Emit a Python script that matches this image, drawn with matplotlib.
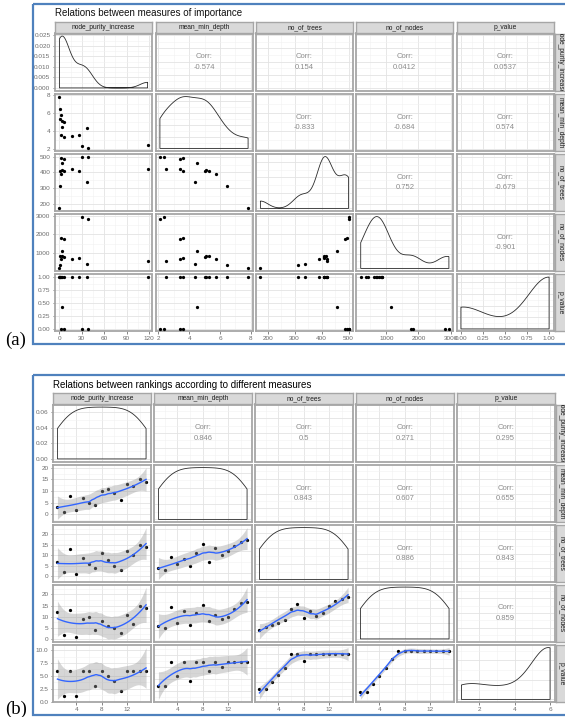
import numpy as np
import matplotlib
matplotlib.use("Agg")
import matplotlib.pyplot as plt
from matplotlib.patches import Rectangle
from matplotlib.ticker import FixedLocator, MaxNLocator, AutoMinorLocator

plt.rcParams['font.family'] = ['Liberation Sans', 'DejaVu Sans']

W, H = 565, 717

var_names = ["node_purity_increase", "mean_min_depth", "no_of_trees", "no_of_nodes", "p_value"]

# (a) importance measures (one value per explanatory variable)
npi_a   = [38.0, 30.0, 118.0, 6.2, 2.7, 17.4, 25.9, 3.0, 5.8, 4.0, 1.3, 1.8, 37.5, 0.4, 0.0]
mmd_a   = [2.10, 2.36, 2.49, 3.40, 3.60, 3.42, 3.60, 4.50, 5.02, 5.12, 5.31, 5.75, 4.38, 6.46, 7.82]
trees_a = [500, 500, 419, 485, 494, 419, 410, 458, 410, 415, 408, 391, 340, 314, 173]
nodes_a = [2840, 2947, 600, 1761, 1830, 697, 766, 1138, 820, 872, 860, 680, 430, 378, 200]
pval_a  = [0.0, 0.0, 1.0, 0.0, 0.0, 1.0, 1.0, 0.42, 1.0, 1.0, 1.0, 1.0, 1.0, 1.0, 1.0]
corr_a = [["-0.574", "0.154", "0.0412", "0.0537"],
          ["-0.833", "-0.684", "0.574"],
          ["0.752", "-0.679"],
          ["-0.901"]]

# (b) rankings according to the measures
npi_b   = [1, 2, 3, 4, 5, 6, 7, 8, 9, 10, 11, 12, 13, 14, 15]
mmd_b   = [3, 1, 8, 2, 7, 5, 4, 10, 11, 9, 6, 13, 12, 15, 14]
trees_b = [7, 2, 13, 1, 9, 6, 4, 11, 8, 5, 3, 12, 10, 15, 14]
nodes_b = [12, 2, 13, 1, 9, 10, 4, 8, 6, 5, 3, 11, 7, 15, 14]
pval_b  = [6, 1, 6, 1, 6, 6, 3, 6, 5, 4, 2, 6, 6, 6, 6]
corr_b = [["0.846", "0.5", "0.271", "0.295"],
          ["0.843", "0.607", "0.655"],
          ["0.886", "0.843"],
          ["0.859"]]

# tick marks
ticks_a = [[0, 30, 60, 90, 120], [2, 4, 6, 8], [200, 300, 400, 500], [1000, 2000, 3000],
           [0, 0.25, 0.5, 0.75, 1.0]]
labels_a = [["0", "30", "60", "90", "120"], ["2", "4", "6", "8"], ["200", "300", "400", "500"],
            ["1000", "2000", "3000"], ["0.00", "0.25", "0.50", "0.75", "1.00"]]
dens_ticks_a = [0, 0.005, 0.010, 0.015, 0.020, 0.025]
dens_labels_a = ["0.000", "0.005", "0.010", "0.015", "0.020", "0.025"]

ticks_b = [[4, 8, 12], [4, 8, 12], [4, 8, 12], [4, 8, 12], [2, 4, 6]]
labels_b = [["4", "8", "12"]] * 4 + [["2", "4", "6"]]
left_ticks_b = [[0, 0.02, 0.04, 0.06], [0, 5, 10, 15, 20], [0, 5, 10, 15, 20], [0, 5, 10, 15, 20],
                [0, 2.5, 5, 7.5, 10]]
left_labels_b = [["0.00", "0.02", "0.04", "0.06"], ["0", "5", "10", "15", "20"],
                 ["0", "5", "10", "15", "20"], ["0", "5", "10", "15", "20"],
                 ["0.0", "2.5", "5.0", "7.5", "10.0"]]

STEPS = [1, 2, 2.5, 3, 4, 5, 10]


def kde(v, n=512):
    # gaussian kernel, bw.nrd0 like R
    v = np.asarray(v, float)
    sd = v.std(ddof=1)
    q75, q25 = np.percentile(v, [75, 25])
    lo = min(sd, (q75 - q25) / 1.34)
    if lo <= 0:
        lo = sd
    bw = 0.9 * lo * len(v) ** -0.2
    xs = np.linspace(v.min(), v.max(), n)
    d = np.exp(-0.5 * ((xs[:, None] - v[None, :]) / bw) ** 2).sum(1)
    d = d / (len(v) * bw * np.sqrt(2 * np.pi))
    return xs, d


def t975(df):
    z = 1.959964
    return (z + (z ** 3 + z) / (4 * df) + (5 * z ** 5 + 16 * z ** 3 + 3 * z) / (96 * df ** 2)
            + (3 * z ** 7 + 19 * z ** 5 + 17 * z ** 3 - 15 * z) / (384 * df ** 3))


def loess(x, y, xg, span=0.75):
    # local quadratic fit with tricube weights + standard error band
    x = np.asarray(x, float)
    y = np.asarray(y, float)
    n = len(x)
    q = int(np.floor(n * span))

    def row(x0):
        d = np.abs(x - x0)
        h = np.sort(d)[q - 1] * 1.0001
        u = np.clip(d / h, 0, 1)
        w = (1 - u ** 3) ** 3
        X = np.column_stack([np.ones(n), x - x0, (x - x0) ** 2])
        XtW = X.T * w
        return np.linalg.solve(XtW @ X, XtW)[0]

    L = np.array([row(v) for v in x])
    Lg = np.array([row(v) for v in xg])
    R = np.eye(n) - L
    M = R.T @ R
    d1 = np.trace(M)
    d2 = np.trace(M @ M)
    s = np.sqrt(np.sum((R @ y) ** 2) / d1)
    fit = Lg @ y
    se = s * np.sqrt((Lg ** 2).sum(1))
    t = t975(d1 ** 2 / d2)
    return fit, fit - t * se, fit + t * se


def px_axes(fig, x, y, w, h):
    return fig.add_axes([x / W, 1 - (y + h) / H, w / W, h / H])


def expand(v):
    lo, hi = np.min(v), np.max(v)
    pad = 0.05 * (hi - lo)
    return lo - pad, hi + pad


def draw_pairs(fig, data, corr, col_x, row_y, pw, ph, smooth, ticks, labels, left_ticks, left_labels):
    n = len(data)
    for i in range(n):
        for j in range(n):
            ax = px_axes(fig, col_x[j], row_y[i], pw, ph)
            xv = np.asarray(data[j], float)
            yv = np.asarray(data[i], float)
            ygrid = None
            if i == j:
                xs, d = kde(xv)
                ax.fill(np.r_[xs[0], xs, xs[-1]], np.r_[0, d, 0], facecolor='none',
                        edgecolor='#2B2B2B', lw=0.6)
                ax.set_xlim(*expand(xv))
                ax.set_ylim(*expand([0, d.max()]))
            elif i > j:
                ax.scatter(xv, yv, s=5.5, c='black', lw=0, zorder=3)
                yext = yv
                if smooth:
                    xg = np.linspace(xv.min(), xv.max(), 80)
                    fit, lo, hi = loess(xv, yv, xg)
                    ax.fill_between(xg, lo, hi, color='#999999', alpha=0.4, lw=0, zorder=4)
                    ax.plot(xg, fit, color='#3366FF', lw=1.0, zorder=5)
                    yext = np.r_[yv, lo, hi]
                else:
                    ygrid = ticks[i]
                ax.set_xlim(*expand(xv))
                ax.set_ylim(*expand(yext))
            else:
                ax.set_xlim(*expand(xv))
                ax.set_ylim(*expand(yv))
                ygrid = ticks[i]
                ax.text(0.5, 0.5, "Corr:\n" + corr[i][j - i - 1], transform=ax.transAxes,
                        ha='center', va='center', fontsize=5.5, color='#8C8C8C', linespacing=1.7)

            if j == 0:
                ygrid = left_ticks[i]
            ax.xaxis.set_major_locator(FixedLocator(ticks[j]))
            if ygrid is None:
                ax.yaxis.set_major_locator(MaxNLocator(5, steps=STEPS))
            else:
                ax.yaxis.set_major_locator(FixedLocator(ygrid))
            ax.xaxis.set_minor_locator(AutoMinorLocator(2))
            ax.yaxis.set_minor_locator(AutoMinorLocator(2))
            ax.grid(True, which='major', color='#E3E3E3', lw=0.6)
            ax.grid(True, which='minor', color='#F1F1F1', lw=0.4)
            ax.set_axisbelow(True)
            for s in ax.spines.values():
                s.set_color('#A6A6A6')
                s.set_linewidth(1.3)
            ax.tick_params(which='minor', length=0)
            ax.tick_params(which='major', length=0, labelsize=4.6, labelcolor='#6B6B6B', pad=1.5)
            if j == 0:
                ax.set_yticklabels(left_labels[i])
                ax.tick_params(axis='y', which='major', length=1.8, width=0.5, color='#555555')
            else:
                ax.set_yticklabels([])
            if i == n - 1:
                ax.set_xticklabels(labels[j])
                ax.tick_params(axis='x', which='major', length=1.8, width=0.5, color='#555555')
            else:
                ax.set_xticklabels([])

    # strips
    for j in range(n):
        sa = px_axes(fig, col_x[j], row_y[0] - 11.5, pw, 11)
        sa.set_facecolor('#D9D9D9')
        sa.set_xticks([])
        sa.set_yticks([])
        for s in sa.spines.values():
            s.set_color('#A6A6A6')
            s.set_linewidth(1.0)
        sa.text(0.5, 0.5, var_names[j], ha='center', va='center', fontsize=4.8,
                color='#1A1A1A', transform=sa.transAxes, clip_on=True)
    for i in range(n):
        sa = px_axes(fig, col_x[-1] + pw + 1.3, row_y[i], 13, ph)
        sa.set_facecolor('#D9D9D9')
        sa.set_xticks([])
        sa.set_yticks([])
        for s in sa.spines.values():
            s.set_color('#A6A6A6')
            s.set_linewidth(1.0)
        sa.text(0.42, 0.5, var_names[i], ha='center', va='center', fontsize=4.8, rotation=-90,
                color='#1A1A1A', transform=sa.transAxes, clip_on=True)


fig = plt.figure(figsize=(W / 100, H / 100), dpi=100)
bg = fig.add_axes([0, 0, 1, 1])
bg.set_xlim(0, W)
bg.set_ylim(H, 0)
bg.axis('off')

# blue picture frames
bg.add_patch(Rectangle((33, 4), 545, 340, fill=False, edgecolor='#4F81BD', lw=1.6))
bg.add_patch(Rectangle((33, 374.5), 545, 340.5, fill=False, edgecolor='#4F81BD', lw=1.6))

bg.text(55, 13.5, "Relations between measures of importance", fontsize=7.0, va='center', color='#111111')
bg.text(53, 385.5, "Relations between rankings according to different measures", fontsize=7.0,
        va='center', color='black')
bg.text(5, 345, "(a)", family=['Liberation Serif', 'DejaVu Serif'], fontsize=13.5, va='baseline')
bg.text(5, 714, "(b)", family=['Liberation Serif', 'DejaVu Serif'], fontsize=13.5, va='baseline')

data_a = [npi_a, mmd_a, trees_a, nodes_a, pval_a]
data_b = [npi_b, mmd_b, trees_b, nodes_b, pval_b]

draw_pairs(fig, data_a, corr_a,
           col_x=[55, 155.5, 256, 356.3, 456.5], row_y=[33.5, 94, 154, 214, 274.5], pw=97, ph=57,
           smooth=False, ticks=ticks_a, labels=labels_a,
           left_ticks=[dens_ticks_a] + ticks_a[1:], left_labels=[dens_labels_a] + labels_a[1:])

draw_pairs(fig, data_b, corr_b,
           col_x=[53, 154, 255, 356, 457], row_y=[404.5, 465, 525, 584.5, 645], pw=97.5, ph=57,
           smooth=True, ticks=ticks_b, labels=labels_b,
           left_ticks=left_ticks_b, left_labels=left_labels_b)

fig.savefig("out.png", dpi=100)
